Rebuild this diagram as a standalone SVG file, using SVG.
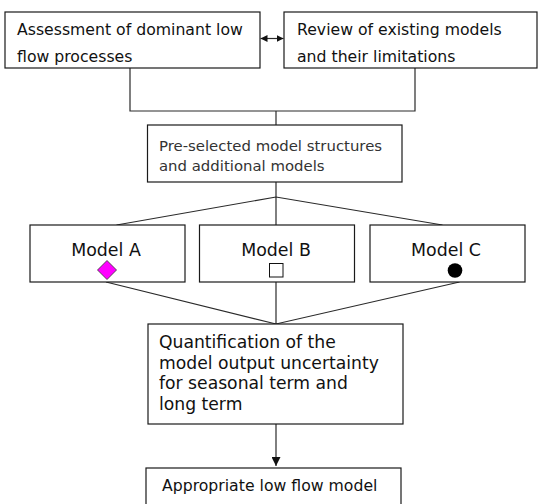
<svg xmlns="http://www.w3.org/2000/svg" width="538" height="504" viewBox="0 0 538 504">
<style>
.box{fill:#fff;stroke:#1a1a1a;stroke-width:1.2}
.ln{fill:none;stroke:#2a2a2a;stroke-width:1.2}
.t{font-family:"DejaVu Sans",Verdana,sans-serif;fill:#111}
.s16{font-size:15.7px}
.s15{font-size:14.9px;fill:#333}
.s17{font-size:17.2px}
.sm{font-size:17.4px;text-anchor:middle}
</style>
<defs>
<marker id="ah" viewBox="0 0 10 10" refX="10" refY="5" markerWidth="7" markerHeight="7" markerUnits="userSpaceOnUse" orient="auto-start-reverse">
<path d="M0,0L10,5L0,10z" fill="#111"/>
</marker>
<marker id="ah2" viewBox="0 0 10 10" refX="10" refY="5" markerWidth="9" markerHeight="9" markerUnits="userSpaceOnUse" orient="auto">
<path d="M0,0L10,5L0,10z" fill="#111"/>
</marker>
</defs>
<rect width="538" height="504" fill="#fff"/>
<g id="connectors">
<path class="ln" d="M260.5,38.5H283.5" marker-start="url(#ah)" marker-end="url(#ah)"/>
<path class="ln" d="M130,68V111H415V68"/>
<path class="ln" d="M276,111V125"/>
<path class="ln" d="M276,182V225"/>
<path class="ln" d="M116.5,225L276,197L442.5,225"/>
<path class="ln" d="M106,282L276,324L459.5,282"/>
<path class="ln" d="M276,282V324"/>
<path class="ln" d="M276,424V466" marker-end="url(#ah2)"/>
</g>
<g id="assessment">
<rect class="box" x="5" y="12" width="255" height="56"/>
<text class="t s16" x="17" y="35">Assessment of dominant low</text>
<text class="t s16" x="17" y="62">flow processes</text>
</g>
<g id="review">
<rect class="box" x="284" y="12" width="253" height="56"/>
<text class="t s16" x="297" y="35">Review of existing models</text>
<text class="t s16" x="297" y="62">and their limitations</text>
</g>
<g id="preselected">
<rect class="box" x="147.5" y="125" width="254.5" height="57"/>
<text class="t s15" x="159" y="151">Pre-selected model structures</text>
<text class="t s15" x="159" y="171">and additional models</text>
</g>
<g id="modelA">
<rect class="box" x="30" y="225" width="155" height="57"/>
<text class="t sm" x="106" y="256">Model A</text>
<path d="M107,260.5L116.5,270L107,279.5L97.5,270z" fill="#ff00ff" stroke="#333" stroke-width="0.8"/>
</g>
<g id="modelB">
<rect class="box" x="199.5" y="225" width="155" height="57"/>
<text class="t sm" x="276" y="256">Model B</text>
<rect x="269.5" y="263.5" width="13.5" height="13.5" fill="#fff" stroke="#111" stroke-width="1"/>
</g>
<g id="modelC">
<rect class="box" x="370" y="225" width="155" height="57"/>
<text class="t sm" x="446" y="256">Model C</text>
<circle cx="455" cy="270.5" r="7.3" fill="#000"/>
</g>
<g id="quantification">
<rect class="box" x="148" y="324" width="255" height="100"/>
<text class="t s17" x="159" y="348">Quantification of the</text>
<text class="t s17" x="159" y="368.7">model output uncertainty</text>
<text class="t s17" x="159" y="389.4">for seasonal term and</text>
<text class="t s17" x="159" y="410">long term</text>
</g>
<g id="appropriate">
<rect class="box" x="146" y="468" width="255" height="50"/>
<text class="t s16" x="162" y="491">Appropriate low flow model</text>
</g>
</svg>
